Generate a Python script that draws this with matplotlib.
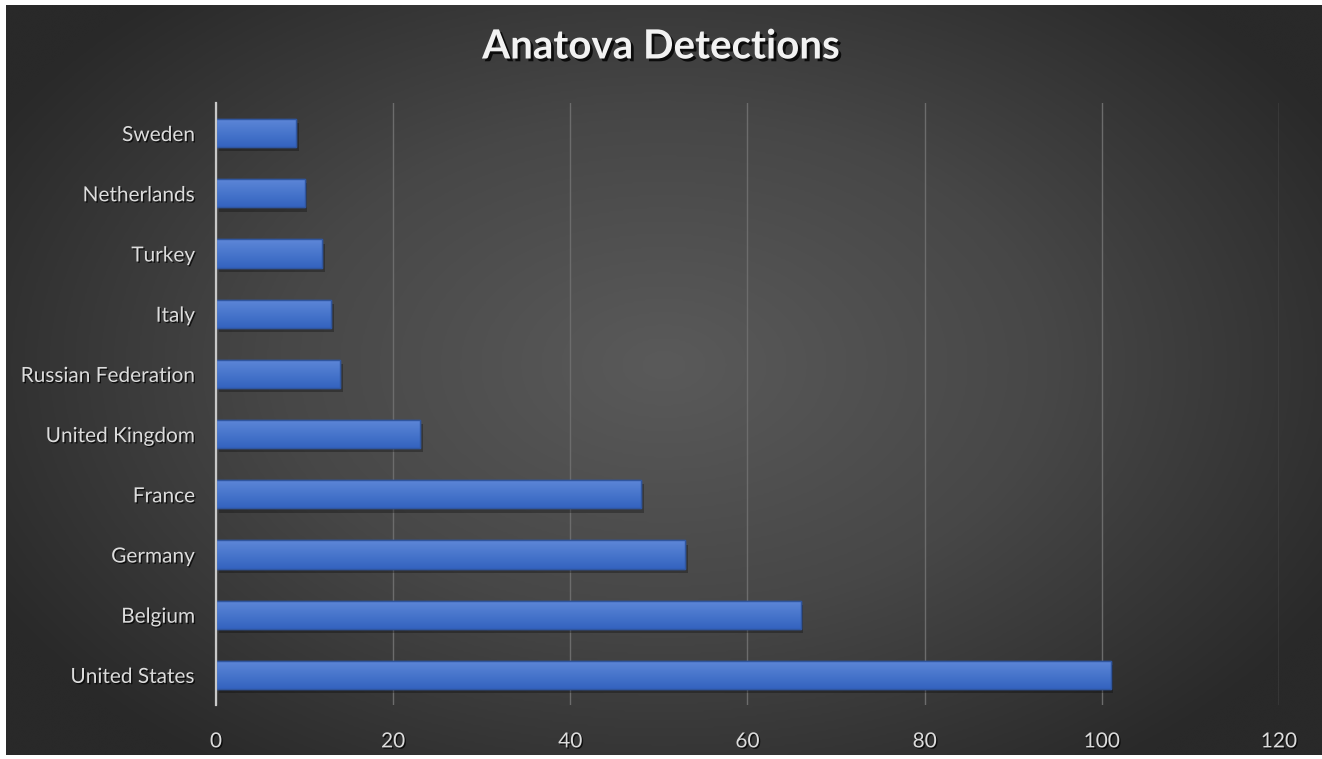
import numpy as np
import matplotlib
matplotlib.use("Agg")
import matplotlib.pyplot as plt
import matplotlib.patheffects as pe
from matplotlib.colors import LinearSegmentedColormap

countries = ["United States", "Belgium", "Germany", "France", "United Kingdom",
             "Russian Federation", "Italy", "Turkey", "Netherlands", "Sweden"]
detections = [101, 66, 53, 48, 23, 14, 13, 12, 10, 9]
x_ticks = [0, 20, 40, 60, 80, 100, 120]

plt.rcParams['font.family'] = ['Lato', 'DejaVu Sans']

fig = plt.figure(figsize=(13.22, 7.59), dpi=100, facecolor='white')

# radial gradient background
bg = fig.add_axes([6 / 1322, 4 / 759, 1 - 6 / 1322, 1 - 9 / 759], zorder=0)
yy, xx = np.mgrid[0:1:400j, 0:1:700j]
r = np.sqrt(((xx - 0.5) / 0.75) ** 2 + ((yy - 0.48) / 0.85) ** 2)
bg_cmap = LinearSegmentedColormap.from_list("bg", ["#5a5a5a", "#474747", "#292929"])
bg.imshow(r, cmap=bg_cmap, aspect='auto', vmin=0, vmax=0.78, interpolation='bicubic')
bg.axis('off')

ax = fig.add_axes([216 / 1322, 1 - 705 / 759, (1279 - 216) / 1322, (705 - 103) / 759], zorder=1)
ax.patch.set_alpha(0)

ypos = np.arange(len(countries))
bars = ax.barh(ypos, detections, height=0.47, color='#4472c4', edgecolor='#2f56a6',
               linewidth=1, zorder=3,
               path_effects=[pe.SimplePatchShadow(offset=(2, -3), shadow_rgbFace='black', alpha=0.28),
                             pe.Normal()])

bar_cmap = LinearSegmentedColormap.from_list("bar", ["#5e87d8", "#4876cc", "#3463bf"])
grad = np.linspace(0, 1, 64).reshape(-1, 1)
for b in bars:
    x0, y0 = b.get_x(), b.get_y()
    w, h = b.get_width(), b.get_height()
    im = ax.imshow(grad, cmap=bar_cmap, aspect='auto', origin='upper',
                   extent=[x0, x0 + w, y0, y0 + h], zorder=4, interpolation='bicubic')
    im.set_clip_path(b)
    edge = plt.Rectangle((x0, y0), w, h, fill=False, edgecolor='#30569f', linewidth=1, zorder=5)
    ax.add_patch(edge)

ax.set_xlim(0, 120)
ax.set_ylim(-0.5, 9.5)
ax.set_xticks(x_ticks)
ax.set_yticks(ypos)
ax.set_yticklabels(countries)

ax.grid(axis='x', color='#6c6c6c', linewidth=1, zorder=1)
ax.grid(axis='y', visible=False)
for s in ['top', 'right', 'bottom']:
    ax.spines[s].set_visible(False)
ax.spines['left'].set_color('#c8c8c8')
ax.spines['left'].set_linewidth(1.6)
ax.spines['left'].set_zorder(6)

shadow = [pe.withSimplePatchShadow(offset=(1, -1), shadow_rgbFace='black', alpha=0.7)]
ax.tick_params(axis='both', length=0, colors='#d9d9d9', labelsize=15)
ax.tick_params(axis='x', pad=19)
ax.tick_params(axis='y', pad=15)
for lbl in ax.get_xticklabels() + ax.get_yticklabels():
    lbl.set_path_effects(shadow)
    lbl.set_color('#dcdcdc')

fig.text(0.5, 1 - 47 / 759, "Anatova Detections", ha='center', va='center',
         fontsize=29, fontweight='bold', color='#f2f2f2',
         path_effects=[pe.withSimplePatchShadow(offset=(2, -2), shadow_rgbFace='black', alpha=0.8)])

fig.savefig("out.png", dpi=100, facecolor='white')
